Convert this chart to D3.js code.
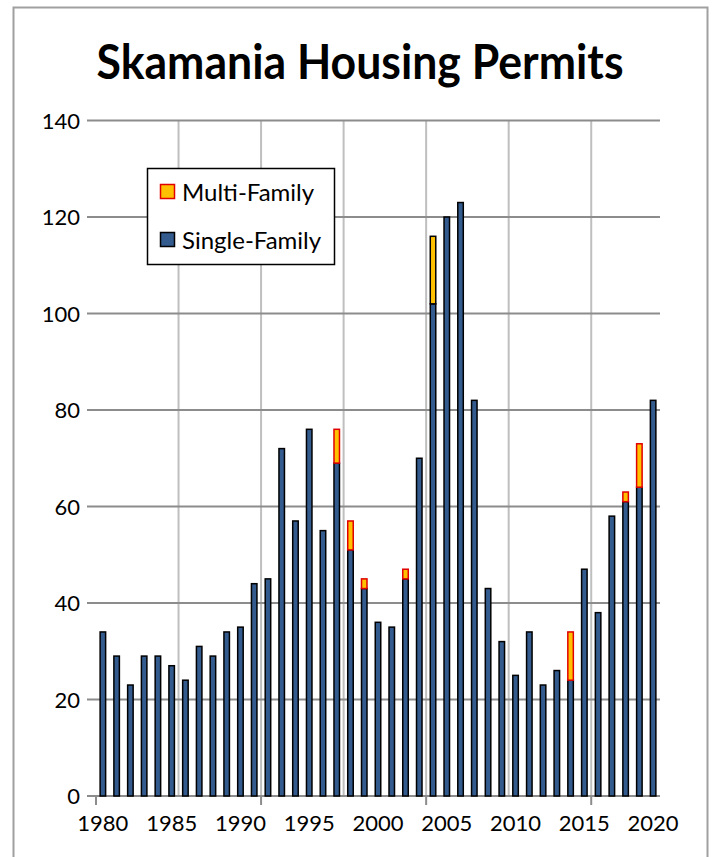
<!DOCTYPE html>
<html>
<head>
<meta charset="utf-8">
<script src="https://cdn.jsdelivr.net/npm/d3@7"></script>
<style>
  html, body { margin: 0; padding: 0; background: #fff; }
  svg { display: block; font-family: Lato, "Open Sans", sans-serif; }
</style>
</head>
<body>
<svg id="chart" width="712" height="857"></svg>
<script>
// années (catégories de l'axe X)
var years = [1980,1981,1982,1983,1984,1985,1986,1987,1988,1989,
             1990,1991,1992,1993,1994,1995,1996,1997,1998,1999,
             2000,2001,2002,2003,2004,2005,2006,2007,2008,2009,
             2010,2011,2012,2013,2014,2015,2016,2017,2018,2019,2020];

// permis maisons individuelles
var singleFamily = [34,29,23,29,29,27,24,31,29,34,
                    35,44,45,72,57,76,55,69,51,43,
                    36,35,45,70,102,120,123,82,43,32,
                    25,34,23,26,24,47,38,58,61,64,82];

// permis logements collectifs (empilés au-dessus)
var multiFamily = [0,0,0,0,0,0,0,0,0,0,
                   0,0,0,0,0,0,0,7,6,2,
                   0,0,2,0,14,0,0,0,0,0,
                   0,0,0,0,10,0,0,0,2,9,0];

var yTicks = [0,20,40,60,80,100,120,140];
var xLabelYears = [1980,1985,1990,1995,2000,2005,2010,2015,2020];

var svg = d3.select("#chart");

var plotLeft = 96, plotRight = 660, plotTop = 120.5, plotBottom = 796;

var x = d3.scaleBand().domain(years).range([plotLeft, plotRight]).padding(0);
var y = d3.scaleLinear().domain([0, 140]).range([plotBottom, plotTop]);
var barW = 5.5;
var fontSz = 22;

// cadre extérieur
svg.append("rect")
  .attr("x", 13.5).attr("y", 7.5)
  .attr("width", 694).attr("height", 870)
  .attr("fill", "none")
  .attr("stroke", "#a0a0a0")
  .attr("stroke-width", 2);

// titre
svg.append("text")
  .attr("x", 360).attr("y", 79)
  .attr("text-anchor", "middle")
  .attr("font-size", 48)
  .attr("font-weight", "bold")
  .attr("textLength", 527)
  .attr("lengthAdjust", "spacingAndGlyphs")
  .text("Skamania Housing Permits");

// grille verticale, toutes les 6 catégories
var vGrid = years.filter((d, i) => i > 0 && i % 6 === 0);
svg.append("g").selectAll("line")
  .data(vGrid)
  .enter().append("line")
  .attr("x1", d => x(d)).attr("x2", d => x(d))
  .attr("y1", plotTop).attr("y2", plotBottom)
  .attr("stroke", "#bfbfbf")
  .attr("stroke-width", 2);

// grille horizontale
svg.append("g").selectAll("line")
  .data(yTicks)
  .enter().append("line")
  .attr("x1", plotLeft - 9).attr("x2", plotRight)
  .attr("y1", d => y(d)).attr("y2", d => y(d))
  .attr("stroke", "#8c8c8c")
  .attr("stroke-width", 2);

// étiquettes Y
svg.append("g").selectAll("text")
  .data(yTicks)
  .enter().append("text")
  .attr("x", 80)
  .attr("y", d => y(d) + 8)
  .attr("text-anchor", "end")
  .attr("font-size", fontSz)
  .text(d => d);

// petites marques de l'axe X (toutes les 12 catégories)
var xTickMarks = years.filter((d, i) => i % 12 === 0);
svg.append("g").selectAll("line")
  .data(xTickMarks)
  .enter().append("line")
  .attr("x1", d => x(d)).attr("x2", d => x(d))
  .attr("y1", plotBottom).attr("y2", plotBottom + 9)
  .attr("stroke", "#8c8c8c")
  .attr("stroke-width", 2);

// étiquettes X
svg.append("g").selectAll("text")
  .data(xLabelYears)
  .enter().append("text")
  .attr("x", d => x(d) + x.bandwidth() / 2)
  .attr("y", 831)
  .attr("text-anchor", "middle")
  .attr("font-size", fontSz)
  .text(d => d);

var rows = years.map((yr, i) => ({year: yr, single: singleFamily[i], multi: multiFamily[i]}));

// barres maisons individuelles
svg.append("g").selectAll("rect")
  .data(rows)
  .enter().append("rect")
  .attr("x", d => x(d.year) + x.bandwidth() / 2 - barW / 2)
  .attr("y", d => y(d.single))
  .attr("width", barW)
  .attr("height", d => y(0) - y(d.single))
  .attr("fill", "#335b8e")
  .attr("stroke", "#000")
  .attr("stroke-width", 1.5);

// barres logements collectifs
svg.append("g").selectAll("rect")
  .data(rows.filter(d => d.multi > 0))
  .enter().append("rect")
  .attr("x", d => x(d.year) + x.bandwidth() / 2 - barW / 2)
  .attr("y", d => y(d.single + d.multi))
  .attr("width", barW)
  .attr("height", d => y(d.single) - y(d.single + d.multi))
  .attr("fill", "#ffc000")
  .attr("stroke", d => d.year === 2004 ? "#000" : "#e00000")
  .attr("stroke-width", 1.5);

// légende
var legend = svg.append("g");
legend.append("rect")
  .attr("x", 147.5).attr("y", 168.5)
  .attr("width", 187).attr("height", 96)
  .attr("fill", "#fff")
  .attr("stroke", "#000")
  .attr("stroke-width", 1.5);

var legendItems = [
  {label: "Multi-Family", fill: "#ffc000", stroke: "#e00000", cy: 192},
  {label: "Single-Family", fill: "#335b8e", stroke: "#000", cy: 240}
];
legendItems.forEach(it => {
  legend.append("rect")
    .attr("x", 160.5).attr("y", it.cy - 7.5)
    .attr("width", 14).attr("height", 14)
    .attr("fill", it.fill)
    .attr("stroke", it.stroke)
    .attr("stroke-width", 1.5);
  legend.append("text")
    .attr("x", 182).attr("y", it.cy + 8.5)
    .attr("font-size", 24)
    .text(it.label);
});
</script>
</body>
</html>
